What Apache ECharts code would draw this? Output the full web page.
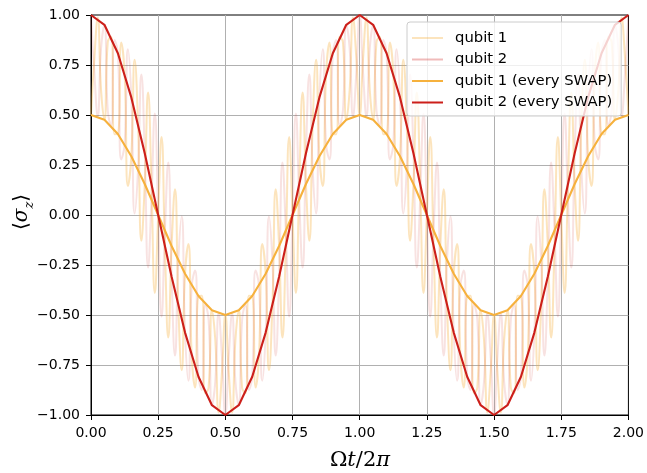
<!DOCTYPE html>
<html>
<head>
<meta charset="utf-8">
<script src="https://cdn.jsdelivr.net/npm/echarts@6/dist/echarts.min.js"></script>
<style>
  html, body { margin: 0; padding: 0; background: #ffffff; }
  #chart { width: 647px; height: 473px; }
</style>
</head>
<body>
<div id="chart"></div>
<script>
// Time axis in units of Omega*t / 2pi
const xTicks = [0, 0.25, 0.5, 0.75, 1, 1.25, 1.5, 1.75, 2];
const yTicks = [-1, -0.75, -0.5, -0.25, 0, 0.25, 0.5, 0.75, 1];

// Sample instants after each SWAP (every 0.05)
const tSwap = [0, 0.05, 0.1, 0.15, 0.2, 0.25, 0.3, 0.35, 0.4, 0.45, 0.5, 0.55, 0.6, 0.65, 0.7, 0.75, 0.8, 0.85, 0.9, 0.95,
  1, 1.05, 1.1, 1.15, 1.2, 1.25, 1.3, 1.35, 1.4, 1.45, 1.5, 1.55, 1.6, 1.65, 1.7, 1.75, 1.8, 1.85, 1.9, 1.95, 2];

// <sigma_z> of each qubit at the SWAP instants
const q1Swap = [0.5, 0.476, 0.405, 0.294, 0.155, 0, -0.155, -0.294, -0.405, -0.476, -0.5, -0.476, -0.405, -0.294, -0.155, 0, 0.155, 0.294, 0.405, 0.476,
  0.5, 0.476, 0.405, 0.294, 0.155, 0, -0.155, -0.294, -0.405, -0.476, -0.5, -0.476, -0.405, -0.294, -0.155, 0, 0.155, 0.294, 0.405, 0.476, 0.5];
const q2Swap = [1, 0.951, 0.809, 0.588, 0.309, 0, -0.309, -0.588, -0.809, -0.951, -1, -0.951, -0.809, -0.588, -0.309, 0, 0.309, 0.588, 0.809, 0.951,
  1, 0.951, 0.809, 0.588, 0.309, 0, -0.309, -0.588, -0.809, -0.951, -1, -0.951, -0.809, -0.588, -0.309, 0, 0.309, 0.588, 0.809, 0.951, 1];

// Continuous trace, sampled four times per SWAP cycle (step 0.0125)
const fineStep = 0.0125;
const q1Fine = [
  0.5, 0.783, 0.988, 0.624, 0.476, 0.865, 0.891, 0.404, 0.405, 0.863, 0.707, 0.145, 0.294, 0.776, 0.454, -0.129, 0.155, 0.613, 0.156, -0.39,
  0, 0.39, -0.156, -0.613, -0.155, 0.129, -0.454, -0.776, -0.294, -0.145, -0.707, -0.863, -0.405, -0.404, -0.891, -0.865, -0.476, -0.624, -0.988, -0.783,
  -0.5, -0.783, -0.988, -0.624, -0.476, -0.865, -0.891, -0.404, -0.405, -0.863, -0.707, -0.145, -0.294, -0.776, -0.454, 0.129, -0.155, -0.613, -0.156, 0.39,
  0, -0.39, 0.156, 0.613, 0.155, -0.129, 0.454, 0.776, 0.294, 0.145, 0.707, 0.863, 0.405, 0.404, 0.891, 0.865, 0.476, 0.624, 0.988, 0.783,
  0.5, 0.783, 0.988, 0.624, 0.476, 0.865, 0.891, 0.404, 0.405, 0.863, 0.707, 0.145, 0.294, 0.776, 0.454, -0.129, 0.155, 0.613, 0.156, -0.39,
  0, 0.39, -0.156, -0.613, -0.155, 0.129, -0.454, -0.776, -0.294, -0.145, -0.707, -0.863, -0.405, -0.404, -0.891, -0.865, -0.476, -0.624, -0.988, -0.783,
  -0.5, -0.783, -0.988, -0.624, -0.476, -0.865, -0.891, -0.404, -0.405, -0.863, -0.707, -0.145, -0.294, -0.776, -0.454, 0.129, -0.155, -0.613, -0.156, 0.39,
  0, -0.39, 0.156, 0.613, 0.155, -0.129, 0.454, 0.776, 0.294, 0.145, 0.707, 0.863, 0.405, 0.404, 0.891, 0.865, 0.476, 0.624, 0.988, 0.783,
  0.5
];
const q2Fine = [
  1, 0.712, 0.494, 0.834, 0.951, 0.521, 0.446, 0.875, 0.809, 0.278, 0.354, 0.829, 0.588, 0.008, 0.227, 0.703, 0.309, -0.263, 0.078, 0.508,
  0, -0.508, -0.078, 0.263, -0.309, -0.703, -0.227, -0.008, -0.588, -0.829, -0.354, -0.278, -0.809, -0.875, -0.446, -0.521, -0.951, -0.834, -0.494, -0.712,
  -1, -0.712, -0.494, -0.834, -0.951, -0.521, -0.446, -0.875, -0.809, -0.278, -0.354, -0.829, -0.588, -0.008, -0.227, -0.703, -0.309, 0.263, -0.078, -0.508,
  0, 0.508, 0.078, -0.263, 0.309, 0.703, 0.227, 0.008, 0.588, 0.829, 0.354, 0.278, 0.809, 0.875, 0.446, 0.521, 0.951, 0.834, 0.494, 0.712,
  1, 0.712, 0.494, 0.834, 0.951, 0.521, 0.446, 0.875, 0.809, 0.278, 0.354, 0.829, 0.588, 0.008, 0.227, 0.703, 0.309, -0.263, 0.078, 0.508,
  0, -0.508, -0.078, 0.263, -0.309, -0.703, -0.227, -0.008, -0.588, -0.829, -0.354, -0.278, -0.809, -0.875, -0.446, -0.521, -0.951, -0.834, -0.494, -0.712,
  -1, -0.712, -0.494, -0.834, -0.951, -0.521, -0.446, -0.875, -0.809, -0.278, -0.354, -0.829, -0.588, -0.008, -0.227, -0.703, -0.309, 0.263, -0.078, -0.508,
  0, 0.508, 0.078, -0.263, 0.309, 0.703, 0.227, 0.008, 0.588, 0.829, 0.354, 0.278, 0.809, 0.875, 0.446, 0.521, 0.951, 0.834, 0.494, 0.712,
  1
];

const seriesNames = ['qubit 1', 'qubit 2', 'qubit 1 (every SWAP)', 'qubit 2 (every SWAP)'];

const ORANGE = '#f6b13d';
const RED = '#cc1f1a';
const ORANGE_FAINT = 'rgba(246,177,61,0.34)';
const RED_FAINT = 'rgba(204,31,26,0.13)';
const RED_FAINT_KEY = 'rgba(204,31,26,0.3)';

const pairs = (xs, ys) => ys.map((y, i) => [xs[i], y]);
const tFine = q1Fine.map((_, i) => i * fineStep);

const fmt = v => (v < 0 ? '\u2212' : '') + Math.abs(v).toFixed(2);
const FONT = 'DejaVu Sans';

// legend key: a 2px horizontal stroke inside a 31x14 box
const KEY_LINE = 'path://M0,0L0,0ZM0,6H31V8H0ZM0,14L0,14Z';

const axisCommon = {
  axisLine: { show: true, onZero: false, lineStyle: { color: '#000', width: 1 } },
  axisTick: { show: true, length: 5, lineStyle: { color: '#000', width: 1 } },
  axisLabel: { color: '#000', fontSize: 14, fontFamily: FONT, margin: 11, formatter: fmt, showMinLabel: true, showMaxLabel: true },
  splitLine: { show: true, showMinLine: false, showMaxLine: false, lineStyle: { color: '#b0b0b0', width: 1 } }
};

const chart = echarts.init(document.getElementById('chart'), null, { renderer: 'canvas' });

chart.setOption({
  animation: false,
  backgroundColor: '#ffffff',
  grid: { left: 91, right: 18, top: 15, bottom: 58, show: true, borderColor: '#000', borderWidth: 1, backgroundColor: 'transparent' },
  xAxis: Object.assign({ type: 'value', min: xTicks[0], max: xTicks[xTicks.length - 1], interval: 0.25 }, axisCommon),
  yAxis: Object.assign({ type: 'value', min: yTicks[0], max: yTicks[yTicks.length - 1], interval: 0.25 }, axisCommon),
  legend: {
    orient: 'vertical',
    left: 407,
    top: 22,
    itemWidth: 31,
    itemHeight: 14,
    itemGap: 6.5,
    padding: [8.5, 9, 6, 5],
    icon: KEY_LINE,
    itemStyle: { borderWidth: 0 },
    backgroundColor: 'rgba(255,255,255,0.8)',
    borderColor: '#cccccc',
    borderWidth: 1,
    borderRadius: 3,
    textStyle: { fontSize: 14.8, color: '#000', fontFamily: FONT, padding: [0, 0, 0, 7] },
    data: [
      { name: seriesNames[0], itemStyle: { color: ORANGE_FAINT, borderWidth: 0 } },
      { name: seriesNames[1], itemStyle: { color: RED_FAINT_KEY, borderWidth: 0 } },
      { name: seriesNames[2], itemStyle: { color: ORANGE, borderWidth: 0 } },
      { name: seriesNames[3], itemStyle: { color: RED, borderWidth: 0 } }
    ]
  },
  series: [
    { name: seriesNames[0], type: 'line', data: pairs(tFine, q1Fine), symbol: 'none', smooth: 0.5,
      color: ORANGE_FAINT, lineStyle: { width: 2, color: ORANGE_FAINT }, silent: true, emphasis: { disabled: true } },
    { name: seriesNames[1], type: 'line', data: pairs(tFine, q2Fine), symbol: 'none', smooth: 0.5,
      color: RED_FAINT, lineStyle: { width: 2, color: RED_FAINT }, silent: true, emphasis: { disabled: true } },
    { name: seriesNames[2], type: 'line', data: pairs(tSwap, q1Swap), symbol: 'none',
      color: ORANGE, lineStyle: { width: 2.1, color: ORANGE }, silent: true, emphasis: { disabled: true } },
    { name: seriesNames[3], type: 'line', data: pairs(tSwap, q2Swap), symbol: 'none',
      color: RED, lineStyle: { width: 2.1, color: RED }, silent: true, emphasis: { disabled: true } }
  ],
  graphic: [
    {
      type: 'text', x: 360, y: 461,
      style: {
        text: '{o|\u03A9}{i|t}{o|/2}{i|\u03C0}',
        align: 'center', verticalAlign: 'middle', fill: '#000',
        rich: {
          o: { fontSize: 21, fontFamily: 'DejaVu Serif', fill: '#000' },
          i: { fontSize: 21, fontFamily: 'DejaVu Serif', fontStyle: 'italic', fill: '#000' }
        }
      }
    },
    {
      type: 'text', x: 22, y: 212, rotation: Math.PI / 2,
      style: {
        text: '{b|\u27E8}{s|\u03C3}{z|z}{b|\u27E9}',
        align: 'center', verticalAlign: 'middle', fill: '#000',
        rich: {
          b: { fontSize: 20, fontFamily: 'DejaVu Sans', lineHeight: 28, fill: '#000' },
          s: { fontSize: 20, fontFamily: 'DejaVu Serif', fontStyle: 'italic', lineHeight: 28, fill: '#000' },
          z: { fontSize: 13, fontFamily: 'DejaVu Serif', fontStyle: 'italic', lineHeight: 28, verticalAlign: 'bottom', fill: '#000' }
        }
      }
    }
  ]
});
</script>
</body>
</html>
